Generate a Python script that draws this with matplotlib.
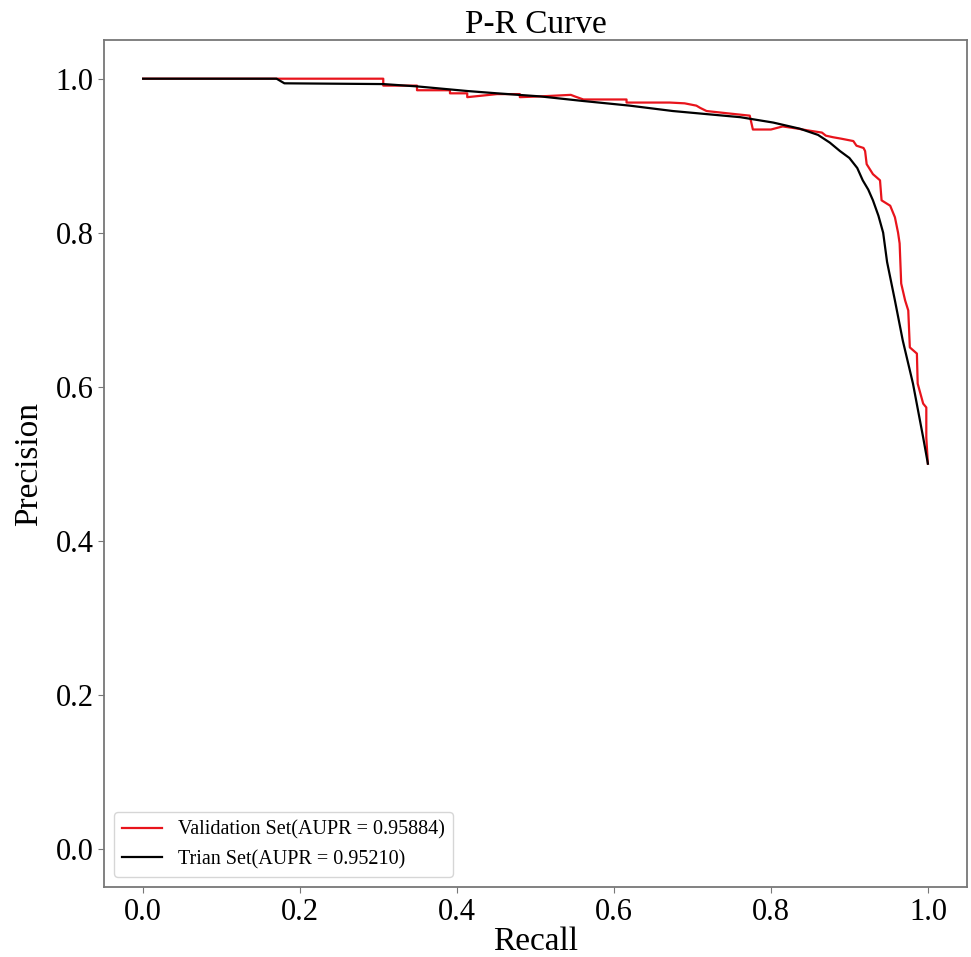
import matplotlib
matplotlib.use("Agg")
import matplotlib.pyplot as plt

# Validation set P-R curve (recall, precision)
val_recall = [0.0, 0.175, 0.306, 0.306, 0.349, 0.349, 0.391, 0.391, 0.413, 0.413, 0.451, 0.48, 0.48,
              0.506, 0.545, 0.55, 0.561, 0.616, 0.616, 0.671, 0.69, 0.705, 0.71, 0.718, 0.745, 0.773,
              0.777, 0.80, 0.815, 0.835, 0.846, 0.865, 0.87, 0.879, 0.89, 0.905, 0.909, 0.918, 0.920,
              0.922, 0.93, 0.939, 0.941, 0.952, 0.954, 0.958, 0.962, 0.964, 0.966, 0.971, 0.975,
              0.977, 0.986, 0.987, 0.994, 0.998, 0.998, 1.0]
val_precision = [1.0, 1.0, 1.0, 0.991, 0.991, 0.985, 0.985, 0.981, 0.981, 0.976, 0.980, 0.980, 0.976,
                 0.977, 0.979, 0.977, 0.973, 0.973, 0.969, 0.969, 0.968, 0.965, 0.962, 0.958, 0.955, 0.952,
                 0.934, 0.934, 0.938, 0.935, 0.933, 0.930, 0.926, 0.924, 0.922, 0.919, 0.913, 0.910, 0.906,
                 0.889, 0.876, 0.868, 0.842, 0.835, 0.830, 0.820, 0.800, 0.786, 0.734, 0.712, 0.699,
                 0.651, 0.643, 0.604, 0.578, 0.573, 0.534, 0.500]

# Train set P-R curve (recall, precision)
tr_recall = [0.0, 0.170, 0.180, 0.306, 0.349, 0.413, 0.451, 0.506, 0.561, 0.620, 0.675, 0.761, 0.803,
             0.837, 0.860, 0.875, 0.888, 0.900, 0.910, 0.917, 0.924, 0.930, 0.937, 0.943, 0.948,
             0.958, 0.968, 0.981, 0.994, 1.0]
tr_precision = [1.0, 1.0, 0.994, 0.993, 0.990, 0.984, 0.981, 0.977, 0.971, 0.965, 0.958, 0.950, 0.943,
                0.935, 0.927, 0.917, 0.906, 0.897, 0.884, 0.868, 0.856, 0.842, 0.822, 0.800, 0.762,
                0.712, 0.660, 0.604, 0.534, 0.500]

val_label = "Validation Set(AUPR = 0.95884)"
tr_label = "Trian Set(AUPR = 0.95210)"

plt.rcParams['font.family'] = ['Liberation Serif', 'DejaVu Serif']

fig = plt.figure(figsize=(9.71, 9.57), dpi=100)
ax = fig.add_axes([0.107, 0.073, 0.889, 0.885])

ax.plot(val_recall, val_precision, color='#e8141c', lw=1.6, label=val_label)
ax.plot(tr_recall, tr_precision, color='black', lw=1.6, label=tr_label)

ax.set_xlim(-0.05, 1.05)
ax.set_ylim(-0.05, 1.05)
ax.set_xticks([0.0, 0.2, 0.4, 0.6, 0.8, 1.0])
ax.set_yticks([0.0, 0.2, 0.4, 0.6, 0.8, 1.0])
ax.tick_params(labelsize=22, color='#777777', length=4)
for s in ax.spines.values():
    s.set_color('#777777')
    s.set_linewidth(1.3)

ax.set_title("P-R Curve", fontsize=24, pad=4)
ax.set_xlabel("Recall", fontsize=24, labelpad=0)
ax.set_ylabel("Precision", fontsize=24, labelpad=8)

ax.legend(loc='lower left', fontsize=14.5, frameon=True, borderaxespad=0.5)

fig.savefig("out.png", dpi=100)
